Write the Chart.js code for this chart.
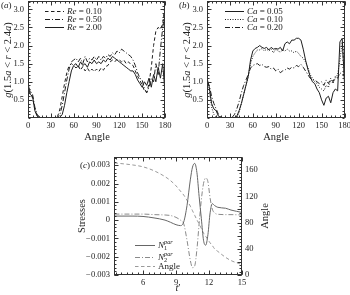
<!DOCTYPE html>
<html>
<head>
<meta charset="utf-8">
<script src="https://cdn.jsdelivr.net/npm/chart.js@4.4.0/dist/chart.umd.min.js"></script>
<style>
html, body { margin: 0; padding: 0; background: #fff; }
#wrap { position: relative; width: 350px; height: 295px; }
#wrap canvas { position: absolute; left: 0; top: 0; }
</style>
</head>
<body>
<div id="wrap">
	<canvas id="chartA" width="350" height="295"></canvas>
	<canvas id="chartB" width="350" height="295"></canvas>
	<canvas id="chartC" width="350" height="295"></canvas>
</div>
<script>

// angle axis shared by panels (a) and (b)
var angles = [0,3,6,9,12,15,18,21,24,27,30,33,36,39,42,45,48,51,54,57,60,63,66,69,72,75,78,81,84,87,90,93,96,99,102,105,108,111,114,117,120,123,126,129,132,135,138,141,144,147,150,153,156,159,162,165,168,171,174,177,180];

// panel (a) : Re
var reNames = ["Re = 0.10", "Re = 0.50", "Re = 2.00"];
var re010 = [0.95,0.7,0.55,0.25,0.08,0.02,0,0,0,0.01,0, 0,0.02,0.05,0.25,0.6,0.95,1.25,1.45,1.5,1.45, 1.38,1.45,1.32,1.42,1.3,1.38,1.28,1.35,1.28,1.35, 1.28,1.38,1.32,1.42,1.45,1.55,1.6,1.55,1.62,1.6, 1.55,1.6,1.5,1.55,1.48,1.45,1.3,1.15,1.05,0.9, 0.75,0.7,0.95,1.4,2.0,2.4,2.5,2.45,2.6,3.15];
var re050 = [0.9,0.75,0.65,0.3,0.1,0.03,0,0,0,0,0, 0,0,0.02,0.1,0.35,0.7,1.05,1.35,1.55,1.6, 1.65,1.55,1.65,1.5,1.7,1.55,1.65,1.6,1.7,1.6, 1.7,1.6,1.7,1.65,1.75,1.7,1.8,1.75,1.85,1.8, 1.9,1.85,1.8,1.75,1.7,1.6,1.45,1.25,1.1,1.05, 0.8,0.7,0.85,1.1,1.0,1.5,1.2,1.9,2.5,2.9];
var re200 = [0.85,0.65,0.6,0.2,0.05,0.02,0,0,0,0,0.01, 0,0,0,0.02,0.1,0.35,0.7,1.0,1.3,1.45, 1.5,1.4,1.55,1.45,1.5,1.4,1.55,1.5,1.6,1.5, 1.55,1.5,1.6,1.55,1.65,1.6,1.7,1.65,1.6,1.55, 1.5,1.45,1.4,1.35,1.3,1.3,1.2,1.05,0.95,0.85, 1.0,0.9,1.1,0.85,1.2,1.0,1.4,1.1,1.5,0.7];

// panel (b) : Ca
var caNames = ["Ca = 0.05", "Ca = 0.10", "Ca = 0.20"];
var ca005 = [1.1,0.85,0.4,0.25,0.2,0.05,0.02,0,0,0,0, 0,0,0.05,0.2,0.4,0.65,0.9,1.15,1.6,1.85, 1.92,1.95,2.0,1.95,1.92,1.95,1.88,1.95,1.9,1.92, 1.9,1.95,1.85,2.05,2.1,2.05,2.15,2.15,2.2,2.2, 2.15,1.9,1.6,1.35,1.15,1.0,0.95,0.8,0.7,0.5, 0.35,0.55,0.6,0.42,0.7,0.8,0.75,2.1,2.2,0.95];
var ca010 = [1.05,0.8,0.3,0.1,0.03,0,0,0,0,0,0, 0,0,0.02,0.15,0.4,0.65,0.9,1.15,1.5,1.7, 1.8,1.88,1.88,1.92,1.85,1.9,1.85,1.9,1.8,1.9, 1.85,1.82,1.88,1.85,1.9,1.85,1.85,1.8,1.85,1.78, 1.7,1.65,1.55,1.4,1.2,1.1,1.0,0.95,0.85,0.8, 0.75,0.9,0.85,1.05,0.95,1.1,1.2,1.6,2.1,1.1];
var ca020 = [1.0,0.9,0.6,0.4,0.25,0.1,0.03,0,0,0,0, 0.02,0.1,0.25,0.45,0.7,0.9,1.05,1.2,1.38,1.45, 1.48,1.5,1.45,1.48,1.42,1.4,1.42,1.35,1.38,1.3, 1.35,1.25,1.3,1.32,1.38,1.35,1.4,1.38,1.45,1.42, 1.48,1.4,1.3,1.2,1.1,1.05,1.05,1.0,0.95,1.0, 0.9,1.05,0.95,1.1,1.0,1.15,1.1,1.25,1.2,1.2];

var abTicksX = [0, 30, 60, 90, 120, 150, 180];
var abTicksY = [0.5, 1.0, 1.5, 2.0, 2.5, 3.0];

// panel (c) : stresses and angle against t'
var tPts   = [3.4, 5, 6, 7, 8, 8.5, 9, 9.4, 9.7, 10, 10.3, 10.5, 10.7, 10.9, 11.1, 11.3, 11.5, 11.7, 11.9, 12.1, 12.3, 12.5, 12.8, 13.5, 14, 15];
var n1Tot  = [0.00022,0.00022,0.0002,0.00012,0,-0.00012,-0.00025,-0.0003,-0.0001,0.0008,0.0022,0.0029,0.0031,0.0026,0.0013,0.0001,-0.0011,-0.00137,-0.0008,0.0004,0.0009,0.0008,0.0007,0.00065,0.00055,0.00042];
var n2Tot  = [0.00033,0.00033,0.00033,0.0003,0.00028,0.00025,0.00015,0,-0.0002,-0.0011,-0.0022,-0.0026,-0.0025,-0.0016,-0.0002,0.0011,0.002,0.0023,0.0021,0.0012,0.0006,0.0004,0.00032,0.0003,0.0003,0.00028];
var angleC = [171,168,165,159,150,144,136,128,122,114,105,98,91,84,78,71,64,59,54,49,45,40,36,27,22,16];
var cNames = ["N1", "N2", "Angle"];

var cTicksX = [6, 9, 12, 15];
var cTicksY = [-0.003, -0.002, -0.001, 0, 0.001, 0.002, 0.003];
var cTicksY2 = [0, 20, 40, 60, 80, 100, 120, 140, 160, 180];

var SERIF = "'Liberation Serif', 'DejaVu Serif', serif";
var INK = '#222';

Chart.defaults.font.family = SERIF;
Chart.defaults.font.size = 8.5;
Chart.defaults.color = INK;

function pts(xs, ys){
	return xs.map(function(x, i){ return { x: x, y: ys[i] }; });
}

function fixTicks(list){
	return function(scale){ scale.ticks = list.map(function(v){ return { value: v }; }); };
}

// fixed scale size, and no extra room asked for overflowing labels
function fixSize(prop, size){
	return function(s){
		s[prop] = size;
		s.paddingTop = 0; s.paddingBottom = 0; s.paddingLeft = 0; s.paddingRight = 0;
	};
}

function rich(ctx, parts, x, y, size, align){
	var w = 0, lastStart = 0, cx = 0;
	var widths = parts.map(function(p){
		ctx.font = (p.i ? 'italic ' : '') + (size * (p.s || 1)) + 'px ' + SERIF;
		return ctx.measureText(p.t).width;
	});
	// "back" parts stack over the previous one (sub + superscript)
	var pos = [];
	parts.forEach(function(p, k){
		if (p.back) { cx = lastStart; }
		pos.push(cx);
		lastStart = cx;
		cx += widths[k];
		w = Math.max(w, cx);
	});
	var sx = align === 'center' ? x - w / 2 : x;
	ctx.textBaseline = 'middle';
	ctx.textAlign = 'left';
	parts.forEach(function(p, k){
		ctx.font = (p.i ? 'italic ' : '') + (size * (p.s || 1)) + 'px ' + SERIF;
		ctx.fillText(p.t, sx + pos[k], y + (p.dy || 0));
	});
}

function nameParts(name){
	if (name === 'N1' || name === 'N2') {
		return [{ t: 'N', i: 1 }, { t: name.charAt(1), s: 0.7, dy: 2.5 }, { t: 'par', i: 1, s: 0.7, dy: -3.5, back: true }];
	}
	var sp = name.indexOf(' ');
	if (sp < 0) { return [{ t: name }]; }
	return [{ t: name.slice(0, sp), i: 1 }, { t: name.slice(sp) }];
}

function line(ctx, x1, y1, x2, y2){
	ctx.beginPath(); ctx.moveTo(x1, y1); ctx.lineTo(x2, y2); ctx.stroke();
}

function minorList(min, max, step){
	var out = [];
	var first = Math.ceil(min / step - 1e-9) * step;
	for (var v = first; v <= max + 1e-9; v += step) { out.push(v); }
	return out;
}

var framePlugin = {
	id: 'frame',
	afterDraw: function(chart, args, o){
		var ctx = chart.ctx, a = chart.chartArea;
		var L = Math.round(a.left) + 0.5, R = Math.round(a.right) - 0.5;
		var T = Math.round(a.top) + 0.5, B = Math.round(a.bottom) - 0.5;
		ctx.save();
		ctx.strokeStyle = '#333';
		ctx.lineWidth = 1;
		ctx.setLineDash([]);
		ctx.strokeRect(L, T, R - L, B - T);

		var xs = chart.scales.x, ys = chart.scales.y, y2 = chart.scales.y2;
		// x ticks, bottom and top, pointing inward
		minorList(xs.min, xs.max, o.xMinor).forEach(function(v){
			var p = Math.round(xs.getPixelForValue(v)) + 0.5;
			line(ctx, p, B, p, B - 2); line(ctx, p, T, p, T + 2);
		});
		o.xMajor.forEach(function(v){
			var p = Math.round(xs.getPixelForValue(v)) + 0.5;
			line(ctx, p, B, p, B - 4); line(ctx, p, T, p, T + 4);
		});
		// left y ticks (mirrored on the right unless there is a second axis)
		minorList(ys.min, ys.max, o.yMinor).forEach(function(v){
			var p = Math.round(ys.getPixelForValue(v)) + 0.5;
			line(ctx, L, p, L + 2, p);
			if (!y2) { line(ctx, R, p, R - 2, p); }
		});
		o.yMajor.forEach(function(v){
			var p = Math.round(ys.getPixelForValue(v)) + 0.5;
			line(ctx, L, p, L + 4, p);
			if (!y2) { line(ctx, R, p, R - 4, p); }
		});
		if (y2) {
			minorList(y2.min, y2.max, o.y2Minor).forEach(function(v){
				var p = Math.round(y2.getPixelForValue(v)) + 0.5;
				line(ctx, R, p, R - 2, p);
			});
			o.y2Major.forEach(function(v){
				var p = Math.round(y2.getPixelForValue(v)) + 0.5;
				line(ctx, R, p, R - 4, p);
			});
		}

		ctx.fillStyle = INK;
		// panel label
		rich(ctx, [{ t: '(' }, { t: o.tag, i: 1 }, { t: ')' }], o.tagX, o.tagY, 9, 'left');
		// x title
		rich(ctx, o.xTitle, o.xTitleX, o.xTitleY, 10.5, 'center');
		// y titles, rotated
		ctx.save();
		ctx.translate(o.yTitleX, o.yTitleY);
		ctx.rotate(-Math.PI / 2);
		rich(ctx, o.yTitle, 0, 0, 10.5, 'center');
		ctx.restore();
		if (o.y2Title) {
			ctx.save();
			ctx.translate(o.y2TitleX, o.y2TitleY);
			ctx.rotate(-Math.PI / 2);
			rich(ctx, o.y2Title, 0, 0, 10.5, 'center');
			ctx.restore();
		}

		// legend
		chart.data.datasets.forEach(function(ds, k){
			var ly = o.legY[k] + 0.5;
			ctx.strokeStyle = ds.borderColor;
			ctx.lineWidth = ds.borderWidth;
			ctx.setLineDash(ds.borderDash || []);
			line(ctx, o.legX1, ly, o.legX2, ly);
			ctx.setLineDash([]);
			ctx.fillStyle = INK;
			rich(ctx, nameParts(ds.label), o.legTX, ly, 9, 'left');
		});
		ctx.restore();
	}
};

var gTitle = [{ t: 'g', i: 1 }, { t: '(1.5' }, { t: 'a', i: 1 }, { t: ' < ' }, { t: 'r', i: 1 }, { t: ' < 2.4' }, { t: 'a', i: 1 }, { t: ')' }];
var angleTitle = [{ t: 'Angle' }];

var DASH = [3.5, 2.5];
var DASHDOT = [5, 2, 1, 2];
var DOT = [1, 1.5];

function abScales(){
	return {
		x: {
			type: 'linear', min: 0, max: 180,
			afterBuildTicks: fixTicks(abTicksX),
			afterFit: fixSize('height', 20),
			grid: { display: false, drawTicks: false },
			border: { display: false },
			ticks: { padding: 3, maxRotation: 0, autoSkip: false }
		},
		y: {
			type: 'linear', min: 0, max: 3.23,
			afterBuildTicks: fixTicks(abTicksY),
			afterFit: fixSize('width', 28),
			grid: { display: false, drawTicks: false },
			border: { display: false },
			ticks: { padding: 4, callback: function(v){ return Number(v).toFixed(1); } }
		}
	};
}

function lineSet(label, xs, ys, color, dash, axis){
	return {
		label: label,
		data: pts(xs, ys),
		borderColor: color,
		borderWidth: 1,
		borderDash: dash,
		pointRadius: 0,
		fill: false,
		tension: 0,
		yAxisID: axis || 'y'
	};
}

function init_chart_a(){
	new Chart(document.getElementById('chartA'), {
		type: 'line',
		data: {
			datasets: [
				lineSet(reNames[0], angles, re010, '#1e1e1e', DASH),
				lineSet(reNames[1], angles, re050, '#1e1e1e', DASHDOT),
				lineSet(reNames[2], angles, re200, '#1e1e1e', [])
			]
		},
		options: {
			responsive: false, animation: false,
			layout: { padding: { left: 0, top: 1, right: 185, bottom: 157 } },
			scales: abScales(),
			plugins: {
				legend: { display: false }, tooltip: { enabled: false },
				frame: {
					xMajor: abTicksX, xMinor: 6, yMajor: abTicksY, yMinor: 0.1,
					tag: 'a', tagX: 1, tagY: 6,
					xTitle: angleTitle, xTitleX: 97, xTitleY: 137,
					yTitle: gTitle, yTitleX: 8, yTitleY: 60,
					legX1: 45, legX2: 64, legTX: 67, legY: [11, 19, 27]
				}
			}
		},
		plugins: [framePlugin]
	});
}

function init_chart_b(){
	new Chart(document.getElementById('chartB'), {
		type: 'line',
		data: {
			datasets: [
				lineSet(caNames[0], angles, ca005, '#1e1e1e', []),
				lineSet(caNames[1], angles, ca010, '#1e1e1e', DOT),
				lineSet(caNames[2], angles, ca020, '#1e1e1e', DASHDOT)
			]
		},
		options: {
			responsive: false, animation: false,
			layout: { padding: { left: 179, top: 1, right: 5.5, bottom: 157 } },
			scales: abScales(),
			plugins: {
				legend: { display: false }, tooltip: { enabled: false },
				frame: {
					xMajor: abTicksX, xMinor: 6, yMajor: abTicksY, yMinor: 0.1,
					tag: 'b', tagX: 179, tagY: 6,
					xTitle: angleTitle, xTitleX: 276, xTitleY: 137,
					yTitle: gTitle, yTitleX: 187, yTitleY: 60,
					legX1: 225, legX2: 244, legTX: 247, legY: [11, 19, 27]
				}
			}
		},
		plugins: [framePlugin]
	});
}

function fmtStress(v){
	if (Math.abs(v) < 1e-9) { return '0'; }
	var s = Math.abs(v).toFixed(3);
	return v < 0 ? '\u2212' + s : s;
}

function init_chart_c(){
	var setN1 = lineSet(cNames[0], tPts, n1Tot, '#666', []);
	var setN2 = lineSet(cNames[1], tPts, n2Tot, '#8a8a8a', DASHDOT);
	var setAn = lineSet(cNames[2], tPts, angleC, '#9a9a9a', DASH, 'y2');
	[setN1, setN2, setAn].forEach(function(d){ d.cubicInterpolationMode = 'monotone'; });

	new Chart(document.getElementById('chartC'), {
		type: 'line',
		data: { datasets: [setN1, setN2, setAn] },
		options: {
			responsive: false, animation: false,
			layout: { padding: { left: 84, top: 157, right: 78, bottom: 5 } },
			scales: {
				x: {
					type: 'linear', min: 3.36, max: 15,
					afterBuildTicks: fixTicks(cTicksX),
					afterFit: fixSize('height', 15),
					grid: { display: false, drawTicks: false },
					border: { display: false },
					ticks: { padding: 3, maxRotation: 0, autoSkip: false }
				},
				y: {
					type: 'linear', position: 'left', min: -0.003, max: 0.00345,
					afterBuildTicks: fixTicks(cTicksY),
					afterFit: fixSize('width', 30),
					grid: { display: false, drawTicks: false },
					border: { display: false },
					ticks: { padding: 4, callback: fmtStress }
				},
				y2: {
					type: 'linear', position: 'right', min: 0, max: 180,
					afterBuildTicks: fixTicks(cTicksY2),
					afterFit: fixSize('width', 30),
					grid: { display: false, drawTicks: false },
					border: { display: false },
					ticks: { padding: 3 }
				}
			},
			plugins: {
				legend: { display: false }, tooltip: { enabled: false },
				frame: {
					xMajor: cTicksX, xMinor: 0.5, yMajor: cTicksY, yMinor: 0.0002,
					y2Major: cTicksY2, y2Minor: 5,
					tag: 'c', tagX: 80, tagY: 166,
					xTitle: [{ t: 't', i: 1 }, { t: '\u2032' }], xTitleX: 178, xTitleY: 288,
					yTitle: [{ t: 'Stresses' }], yTitleX: 82, yTitleY: 216,
					y2Title: angleTitle, y2TitleX: 265, y2TitleY: 216,
					legX1: 135, legX2: 155, legTX: 158, legY: [245, 257, 266]
				}
			}
		},
		plugins: [framePlugin]
	});
}

init_chart_a();
init_chart_b();
init_chart_c();

</script>
</body>
</html>
